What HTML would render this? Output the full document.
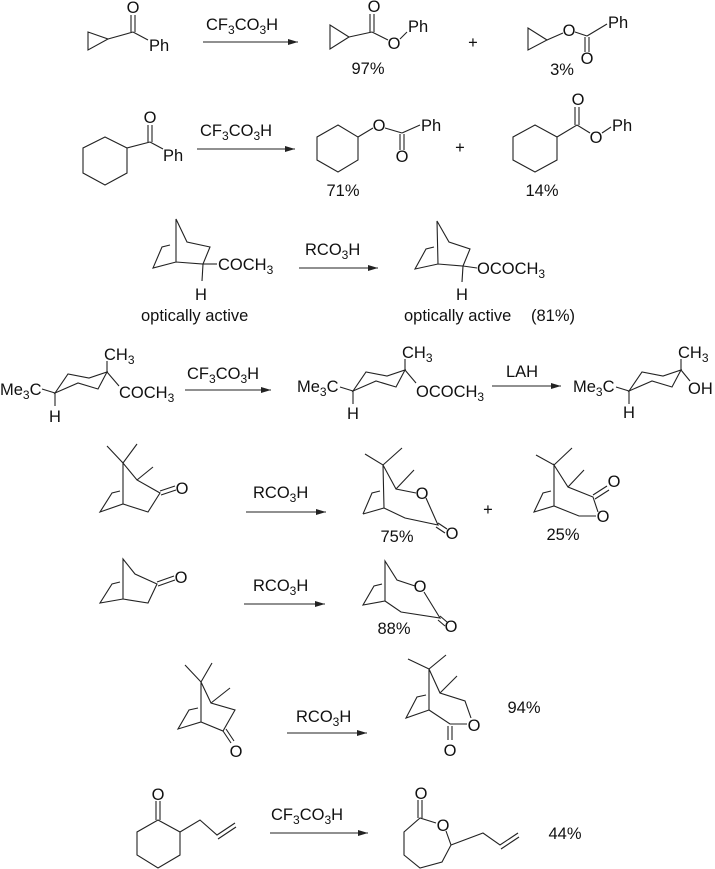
<!DOCTYPE html>
<html><head><meta charset="utf-8"><style>
html,body{margin:0;padding:0;background:#fff;}
svg{display:block}
text{font-family:"Liberation Sans",Arial,sans-serif;font-size:16.5px;fill:#111;}
.s{font-size:12px}
line,polyline,polygon{stroke:#222;stroke-width:1.1;fill:none}
</style></head><body>
<svg width="715" height="869" viewBox="0 0 715 869" xmlns="http://www.w3.org/2000/svg">
<defs><marker id="ah" markerWidth="10" markerHeight="6" refX="10" refY="3" orient="auto" markerUnits="userSpaceOnUse"><path d="M0,0 L10,3 L0,6 z" fill="#222"/></marker></defs>

<!-- ROW 1 -->
<polygon points="88,32 88,50 108,39"/>
<line x1="108" y1="39" x2="133" y2="32"/>
<line x1="131" y1="32" x2="131" y2="15"/><line x1="135" y1="32" x2="135" y2="15"/>
<line x1="133" y1="32" x2="148" y2="40"/>
<text x="133" y="13" text-anchor="middle">O</text>
<text x="149" y="51">Ph</text>
<line x1="203" y1="42" x2="298" y2="42" marker-end="url(#ah)"/>
<text x="206" y="30">CF<tspan class="s" dy="4">3</tspan><tspan dy="-4">CO</tspan><tspan class="s" dy="4">3</tspan><tspan dy="-4">H</tspan></text>

<polygon points="330,25 330,49 349,37"/>
<line x1="349" y1="37" x2="372" y2="32"/>
<line x1="370" y1="32" x2="370" y2="14"/><line x1="374" y1="32" x2="374" y2="14"/>
<text x="374" y="12" text-anchor="middle">O</text>
<line x1="372" y1="32" x2="388" y2="40"/>
<text x="394" y="49" text-anchor="middle">O</text>
<line x1="400" y1="39" x2="407" y2="32"/>
<text x="408" y="32">Ph</text>
<text x="368" y="74" text-anchor="middle">97%</text>
<text x="473" y="48" text-anchor="middle">+</text>

<polygon points="528,28 528,50 547,40"/>
<line x1="547" y1="40" x2="563" y2="33"/>
<text x="569" y="36" text-anchor="middle">O</text>
<line x1="575" y1="32" x2="587" y2="36"/>
<line x1="587" y1="36" x2="607" y2="24"/>
<line x1="585" y1="37" x2="585" y2="52"/><line x1="589" y1="37" x2="589" y2="52"/>
<text x="587" y="64" text-anchor="middle">O</text>
<text x="608" y="28">Ph</text>
<text x="562" y="75" text-anchor="middle">3%</text>

<!-- ROW 2 -->
<polygon points="105,137 127,148 127,173 105,185 83,173 83,148"/>
<line x1="127" y1="148" x2="150" y2="142"/>
<line x1="148" y1="142" x2="148" y2="125"/><line x1="152" y1="142" x2="152" y2="125"/>
<text x="150" y="123" text-anchor="middle">O</text>
<line x1="150" y1="142" x2="163" y2="149"/>
<text x="163" y="161">Ph</text>
<line x1="197" y1="149" x2="295" y2="149" marker-end="url(#ah)"/>
<text x="200" y="136">CF<tspan class="s" dy="4">3</tspan><tspan dy="-4">CO</tspan><tspan class="s" dy="4">3</tspan><tspan dy="-4">H</tspan></text>

<polygon points="338,125 358,137 358,160 338,172 317,160 317,137"/>
<line x1="358" y1="137" x2="373" y2="128"/>
<text x="379" y="131" text-anchor="middle">O</text>
<line x1="385" y1="128" x2="402" y2="133"/>
<line x1="402" y1="133" x2="420" y2="125"/>
<line x1="400" y1="134" x2="400" y2="150"/><line x1="404" y1="134" x2="404" y2="150"/>
<text x="402" y="162" text-anchor="middle">O</text>
<text x="421" y="131">Ph</text>
<text x="343" y="196" text-anchor="middle">71%</text>
<text x="460" y="153" text-anchor="middle">+</text>

<polygon points="535,125 557,137 557,160 535,172 513,160 513,137"/>
<line x1="557" y1="137" x2="577" y2="125"/>
<line x1="575" y1="125" x2="575" y2="107"/><line x1="579" y1="125" x2="579" y2="107"/>
<text x="578" y="105" text-anchor="middle">O</text>
<line x1="577" y1="125" x2="590" y2="133"/>
<text x="596" y="143" text-anchor="middle">O</text>
<line x1="602" y1="133" x2="611" y2="127"/>
<text x="612" y="131">Ph</text>
<text x="542" y="196" text-anchor="middle">14%</text>

<!-- ROW 3 -->
<polyline points="176,262 176,219 187,242 210,247 203,264 176,262 153,268 162,247 170,245"/>
<line x1="203" y1="264" x2="217" y2="264"/>
<line x1="203" y1="264" x2="202" y2="281"/>
<text x="218" y="270">COCH<tspan class="s" dy="4">3</tspan></text>
<text x="201" y="300" text-anchor="middle">H</text>
<text x="141" y="321">optically active</text>
<line x1="299" y1="268" x2="378" y2="268" marker-end="url(#ah)"/>
<text x="305" y="255">RCO<tspan class="s" dy="4">3</tspan><tspan dy="-4">H</tspan></text>

<polyline points="438,264 437,221 449,242 470,249 463,266 438,264 415,269 426,249 434,247"/>
<line x1="463" y1="266" x2="477" y2="268"/>
<line x1="463" y1="266" x2="462" y2="282"/>
<text x="477" y="274">OCOCH<tspan class="s" dy="4">3</tspan></text>
<text x="462" y="300" text-anchor="middle">H</text>
<text x="404" y="321">optically active</text>
<text x="531" y="321">(81%)</text>

<!-- ROW 4 -->
<text x="0" y="395">Me<tspan class="s" dy="4">3</tspan><tspan dy="-4">C</tspan></text>
<line x1="42" y1="389" x2="55" y2="393"/>
<polygon points="55,393 68,374 89,378 107,372 98,389 78,383"/>
<line x1="55" y1="393" x2="55" y2="406"/>
<text x="55" y="422" text-anchor="middle">H</text>
<line x1="107" y1="372" x2="107" y2="361"/>
<text x="104" y="360">CH<tspan class="s" dy="4">3</tspan></text>
<line x1="107" y1="372" x2="119" y2="386"/>
<text x="119" y="398">COCH<tspan class="s" dy="4">3</tspan></text>
<line x1="185" y1="390" x2="271" y2="390" marker-end="url(#ah)"/>
<text x="187" y="379">CF<tspan class="s" dy="4">3</tspan><tspan dy="-4">CO</tspan><tspan class="s" dy="4">3</tspan><tspan dy="-4">H</tspan></text>

<text x="297" y="392">Me<tspan class="s" dy="4">3</tspan><tspan dy="-4">C</tspan></text>
<line x1="340" y1="387" x2="353" y2="391"/>
<polygon points="353,391 366,372 387,376 405,370 396,387 376,381"/>
<line x1="353" y1="391" x2="353" y2="404"/>
<text x="353" y="419" text-anchor="middle">H</text>
<line x1="405" y1="370" x2="405" y2="359"/>
<text x="402" y="358">CH<tspan class="s" dy="4">3</tspan></text>
<line x1="405" y1="370" x2="416" y2="383"/>
<text x="416" y="397">OCOCH<tspan class="s" dy="4">3</tspan></text>
<line x1="492" y1="386" x2="561" y2="386" marker-end="url(#ah)"/>
<text x="506" y="377">LAH</text>

<text x="573" y="392">Me<tspan class="s" dy="4">3</tspan><tspan dy="-4">C</tspan></text>
<line x1="616" y1="387" x2="629" y2="391"/>
<polygon points="629,391 642,372 663,376 681,370 672,387 652,381"/>
<line x1="629" y1="391" x2="629" y2="404"/>
<text x="629" y="418" text-anchor="middle">H</text>
<line x1="681" y1="370" x2="681" y2="359"/>
<text x="678" y="358">CH<tspan class="s" dy="4">3</tspan></text>
<line x1="681" y1="370" x2="690" y2="381"/>
<text x="688" y="394">OH</text>

<!-- ROW 5 -->
<polyline points="107,446 123,463 137,444"/>
<polyline points="123,504 123,463 137,480 160,493 148,512 123,504 100,512 112,493 120,491"/>
<line x1="137" y1="480" x2="153" y2="467"/>
<line x1="160" y1="491" x2="175" y2="486"/><line x1="161" y1="495" x2="176" y2="490"/>
<text x="182" y="494" text-anchor="middle">O</text>
<line x1="246" y1="512" x2="326" y2="512" marker-end="url(#ah)"/>
<text x="253" y="498">RCO<tspan class="s" dy="4">3</tspan><tspan dy="-4">H</tspan></text>

<polyline points="365,454 383,465 402,448"/>
<polyline points="384,508 383,465 396,489 416,493"/>
<line x1="396" y1="489" x2="414" y2="470"/>
<line x1="384" y1="508" x2="363" y2="514"/><polyline points="363,514 372,493 380,491"/>
<polyline points="384,508 405,518 438,525 426,498"/>
<line x1="438" y1="523" x2="447" y2="529"/><line x1="436" y1="527" x2="445" y2="533"/>
<text x="422" y="499" text-anchor="middle">O</text>
<text x="452" y="539" text-anchor="middle">O</text>
<text x="397" y="542" text-anchor="middle">75%</text>
<text x="488" y="515" text-anchor="middle">+</text>

<polyline points="536,455 554,465 572,448"/>
<polyline points="554,506 554,465 568,487 593,497 598,512"/>
<line x1="568" y1="487" x2="584" y2="470"/>
<line x1="593" y1="495" x2="607" y2="486"/><line x1="595" y1="499" x2="609" y2="490"/>
<text x="614" y="487" text-anchor="middle">O</text>
<text x="603" y="522" text-anchor="middle">O</text>
<polyline points="596,516 579,516 554,506 534,512 543,493 551,491"/>
<text x="563" y="540" text-anchor="middle">25%</text>

<!-- ROW 6 -->
<polyline points="123,599 123,559 135,574 157,584 148,603 123,599 100,603 112,584 120,582"/>
<line x1="157" y1="582" x2="174" y2="576"/><line x1="158" y1="586" x2="175" y2="580"/>
<text x="181" y="583" text-anchor="middle">O</text>
<line x1="244" y1="604" x2="325" y2="604" marker-end="url(#ah)"/>
<text x="253" y="591">RCO<tspan class="s" dy="4">3</tspan><tspan dy="-4">H</tspan></text>

<polyline points="385,601 385,561 397,580 415,586"/>
<polyline points="385,601 363,605 374,586 382,584"/>
<polyline points="385,601 401,612 440,618 424,592"/>
<line x1="440" y1="616" x2="447" y2="622"/><line x1="438" y1="620" x2="445" y2="626"/>
<text x="420" y="592" text-anchor="middle">O</text>
<text x="451" y="632" text-anchor="middle">O</text>
<text x="394" y="634" text-anchor="middle">88%</text>

<!-- ROW 7 -->
<polyline points="185,665 201,682 212,663"/>
<polyline points="201,722 201,682 211,703 235,710 223,731 201,722 178,729 189,710 198,708"/>
<line x1="211" y1="703" x2="230" y2="688"/>
<line x1="223" y1="731" x2="231" y2="743"/><line x1="226" y1="729" x2="234" y2="741"/>
<text x="236" y="757" text-anchor="middle">O</text>
<line x1="287" y1="733" x2="367" y2="733" marker-end="url(#ah)"/>
<text x="296" y="722">RCO<tspan class="s" dy="4">3</tspan><tspan dy="-4">H</tspan></text>

<polyline points="408,659 429,669 446,655"/>
<polyline points="429,710 429,669 440,693 465,701 471,718"/>
<line x1="440" y1="693" x2="457" y2="676"/>
<polyline points="429,710 406,718 417,697 426,695"/>
<polyline points="429,710 450,724 467,724"/>
<line x1="448" y1="726" x2="448" y2="740"/><line x1="452" y1="726" x2="452" y2="740"/>
<text x="474" y="731" text-anchor="middle">O</text>
<text x="450" y="756" text-anchor="middle">O</text>
<text x="524" y="713" text-anchor="middle">94%</text>

<!-- ROW 8 -->
<polygon points="158,820 180,832 180,855 158,868 137,855 137,832"/>
<line x1="156" y1="820" x2="156" y2="801"/><line x1="160" y1="820" x2="160" y2="801"/>
<text x="158" y="800" text-anchor="middle">O</text>
<polyline points="180,832 200,820 217,835 235,823"/>
<line x1="218" y1="839" x2="236" y2="827"/>
<line x1="270" y1="833" x2="368" y2="833" marker-end="url(#ah)"/>
<text x="271" y="820">CF<tspan class="s" dy="4">3</tspan><tspan dy="-4">CO</tspan><tspan class="s" dy="4">3</tspan><tspan dy="-4">H</tspan></text>

<polyline points="436,823 420,818 404,832 404,855 420,868 442,862 451,845 446,831"/>
<line x1="418" y1="818" x2="418" y2="800"/><line x1="422" y1="818" x2="422" y2="800"/>
<text x="421" y="799" text-anchor="middle">O</text>
<text x="443" y="831" text-anchor="middle">O</text>
<polyline points="451,845 483,833 500,845 518,833"/>
<line x1="501" y1="849" x2="519" y2="837"/>
<text x="565" y="839" text-anchor="middle">44%</text>
</svg>
</body></html>
